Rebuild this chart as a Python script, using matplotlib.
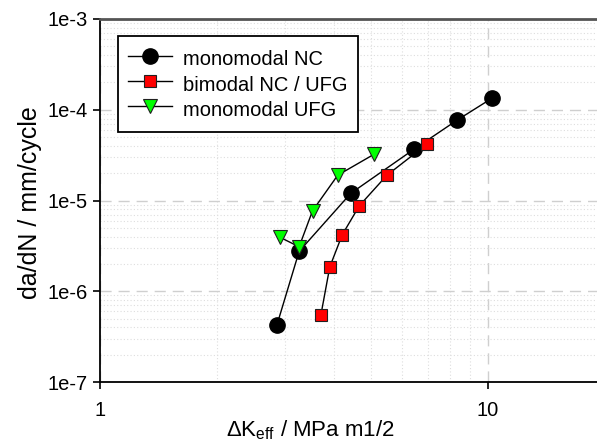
import matplotlib
matplotlib.use("Agg")
import matplotlib.pyplot as plt
from matplotlib.ticker import LogLocator, FixedLocator, NullFormatter

plt.rcParams['font.family'] = ['Liberation Sans', 'DejaVu Sans']
plt.rcParams['mathtext.fontset'] = 'custom'
plt.rcParams['mathtext.rm'] = 'Liberation Sans'
plt.rcParams['mathtext.it'] = 'Liberation Sans'

# Data
nc_k = [2.86, 3.26, 4.43, 6.45, 8.32, 10.24]
nc_da = [4.3e-7, 2.75e-6, 1.2e-5, 3.68e-5, 7.67e-5, 1.34e-4]

bi_k = [3.71, 3.91, 4.21, 4.66, 5.49, 6.96]
bi_da = [5.5e-7, 1.85e-6, 4.19e-6, 8.75e-6, 1.9e-5, 4.18e-5]

ufg_k = [2.91, 3.26, 3.53, 4.10, 5.09]
ufg_da = [3.93e-6, 3.09e-6, 7.7e-6, 1.9e-5, 3.24e-5]

labels = ['monomodal NC', 'bimodal NC / UFG', 'monomodal UFG']
y_ticks = [1e-7, 1e-6, 1e-5, 1e-4, 1e-3]
y_ticklabels = ['1e-7', '1e-6', '1e-5', '1e-4', '1e-3']
x_ticks = [1, 10]
x_ticklabels = ['1', '10']

W, H = 597, 447
fig = plt.figure(figsize=(W / 100, H / 100), dpi=100)
left, right, top, bottom = 100, 597, 19, 382
ax = fig.add_axes([left / W, 1 - bottom / H, (right - left) / W, (bottom - top) / H])
ax.set_xscale('log')
ax.set_yscale('log')
ax.set_xlim(1, 10 ** ((right - left) / 388))
ax.set_ylim(1e-7, 1e-3)

# grids
ax.set_axisbelow(True)
ax.grid(True, which='major', linestyle=(0, (8, 5)), color='#cfcfcf', linewidth=1.0)
ax.grid(True, which='minor', linestyle=(0, (1, 2)), color='#dedede', linewidth=0.8)
ax.xaxis.set_minor_locator(LogLocator(base=10, subs=range(2, 10)))
ax.yaxis.set_minor_locator(LogLocator(base=10, subs=range(2, 10)))
ax.xaxis.set_minor_formatter(NullFormatter())
ax.yaxis.set_minor_formatter(NullFormatter())
ax.tick_params(which='minor', length=0)

ax.plot(nc_k, nc_da, color='black', linewidth=1.0, marker='o', markersize=11,
        markerfacecolor='black', markeredgecolor='black', label=labels[0], zorder=3)
ax.plot(bi_k, bi_da, color='black', linewidth=1.0, marker='s', markersize=9,
        markerfacecolor='#ff0000', markeredgecolor='#202020', markeredgewidth=0.8, label=labels[1], zorder=3)
ax.plot(ufg_k, ufg_da, color='black', linewidth=1.0, marker='v', markersize=10,
        markerfacecolor='#00ff00', markeredgecolor='#202020', markeredgewidth=0.8, label=labels[2], zorder=3)

ax.yaxis.set_major_locator(FixedLocator(y_ticks))
ax.set_yticklabels(y_ticklabels)
ax.xaxis.set_major_locator(FixedLocator(x_ticks))
ax.set_xticklabels(x_ticklabels)
ax.tick_params(which='major', direction='out', length=5, width=1.2, labelsize=14.5, pad=4, colors='black')
ax.tick_params(axis='x', pad=9)

for s in ['left', 'bottom']:
    ax.spines[s].set_linewidth(1.3)
    ax.spines[s].set_color('black')
ax.spines['top'].set_color('#555555')
ax.spines['top'].set_linewidth(2)
ax.spines['right'].set_visible(False)

fig.text(30 / W, 1 - 202.5 / H, 'da/dN / mm/cycle', fontsize=18, rotation=90, ha='center', va='center')
fig.text(310 / W, 1 - 430 / H, r'$\Delta$K$_{\rm eff}$ / MPa m1/2', fontsize=16, ha='center', va='center')

leg = ax.legend(loc='upper left', bbox_to_anchor=((118 - left) / (right - left), 1 - (36 - top) / (bottom - top)),
                fontsize=14.5, frameon=True, fancybox=False, framealpha=1, edgecolor='black',
                borderpad=0.5, handlelength=2.2, handleheight=1.55, handletextpad=0.55,
                labelspacing=0.0, borderaxespad=0)
leg.get_frame().set_linewidth(1.3)

fig.savefig('out.png', dpi=100)
